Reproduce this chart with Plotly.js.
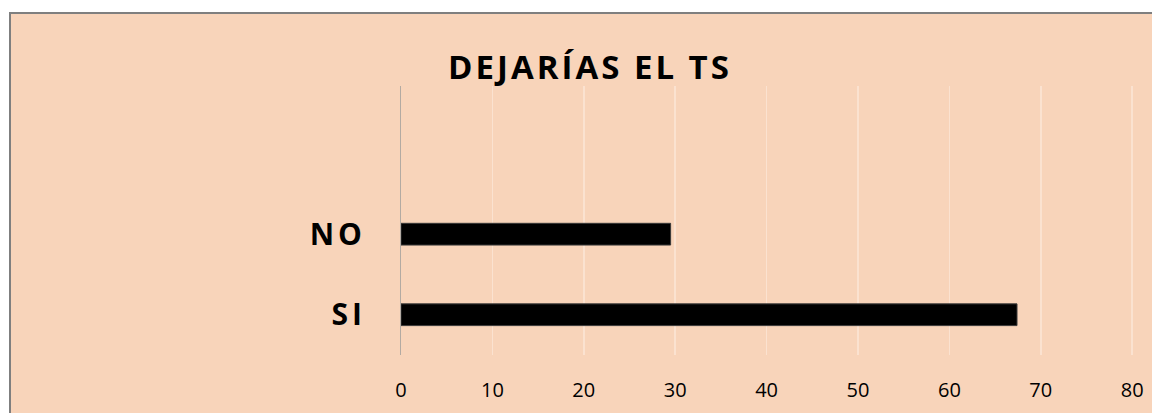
<!DOCTYPE html>
<html>
<head>
<meta charset="utf-8">
<script src="https://cdn.plot.ly/plotly-3.0.1.min.js"></script>
<style>
  html, body { margin: 0; padding: 0; background: #ffffff; width: 1152px; height: 413px; overflow: hidden; }
  #frame { position: absolute; left: 9px; top: 12px; width: 1160px; height: 420px; border: 2px solid #7f7f7f; background: #F8D4BA; box-sizing: border-box; }
  #chart { position: absolute; left: 0; top: 0; width: 1152px; height: 413px; }
  .gtitle { letter-spacing: 3px; }
  .ytick text { letter-spacing: 4px; }
</style>
</head>
<body>
<div id="frame"></div>
<div id="chart"></div>
<script>
const categories = ['SI', 'NO'];
const values = [67.4, 29.5];
const tickVals = [0, 10, 20, 30, 40, 50, 60, 70, 80];
const titleText = 'DEJARÍAS EL TS';

const trace = {
  type: 'bar',
  orientation: 'h',
  x: values,
  y: categories,
  width: 0.27,
  marker: { color: '#000000', line: { color: '#3a3a3a', width: 1 } },
  hoverinfo: 'none'
};

const layout = {
  width: 1152,
  height: 413,
  paper_bgcolor: 'rgba(0,0,0,0)',
  plot_bgcolor: 'rgba(0,0,0,0)',
  margin: { l: 401, r: 18, t: 86, b: 58, pad: 0 },
  showlegend: false,
  title: {
    text: '<b>' + titleText + '</b>',
    font: { family: 'Open Sans', size: 33, color: '#000000' },
    x: 590 / 1152,
    xanchor: 'center',
    y: 1 - 67 / 413,
    yanchor: 'middle'
  },
  xaxis: {
    range: [0, 80.2],
    tickvals: tickVals,
    ticktext: tickVals.map(String),
    showgrid: true,
    gridcolor: '#FBE2D0',
    gridwidth: 1.5,
    zeroline: false,
    showline: false,
    ticks: 'outside',
    ticklen: 17,
    tickcolor: 'rgba(0,0,0,0)',
    tickfont: { family: 'Open Sans', size: 20, color: '#000000' },
    fixedrange: true
  },
  yaxis: {
    type: 'category',
    range: [-0.5, 2.84],
    showgrid: false,
    zeroline: false,
    showline: true,
    linecolor: '#b3aaa2',
    linewidth: 1,
    ticks: 'outside',
    ticklen: 28,
    tickcolor: 'rgba(0,0,0,0)',
    tickfont: { family: 'Open Sans', size: 30, color: '#000000', weight: 'bold' },
    fixedrange: true
  }
};

Plotly.newPlot('chart', [trace], layout, { displayModeBar: false, staticPlot: true });
</script>
</body>
</html>
